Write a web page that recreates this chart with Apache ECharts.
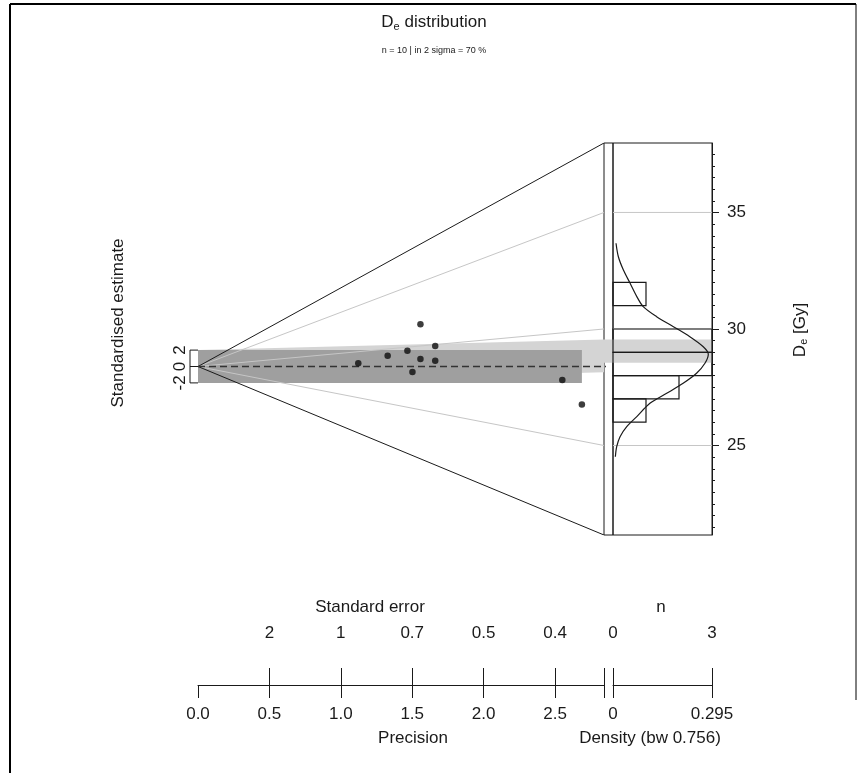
<!DOCTYPE html>
<html lang="en">
<head>
<meta charset="UTF-8">
<title>De distribution</title>
<script src="https://cdn.jsdelivr.net/npm/echarts@6/dist/echarts.min.js"></script>
<style>
  html, body { margin: 0; padding: 0; background: #fff; }
  #main { width: 868px; height: 773px; }
</style>
</head>
<body>
<div id="main"></div>
<script>
// De values (Gy) and standard errors
const deValues = [28.74, 29.38, 29.70, 31.70, 28.98, 27.95, 29.89, 28.82, 27.75, 26.66];
const deErrors = [0.891, 0.753, 0.682, 0.642, 0.642, 0.666, 0.602, 0.602, 0.392, 0.372];

const centralValue = 28.39;          // dashed line
const barValue = 28.85;              // centre of the light grey bar
const densityBar = [28.55, 29.55];   // grey bar inside the density panel

// histogram bins: [from, to, count]
const histBins = [[26, 27, 1], [27, 28, 2], [28, 29, 3], [29, 30, 3], [31, 32, 1]];

// KDE curve: [density, De]
const kdeCurve = [
  [0.007, 24.52], [0.011, 24.95], [0.021, 25.38], [0.041, 25.81], [0.071, 26.24],
  [0.110, 26.81], [0.160, 27.24], [0.209, 27.67], [0.249, 28.10], [0.274, 28.53],
  [0.284, 28.92], [0.269, 29.24], [0.229, 29.67], [0.180, 30.10], [0.130, 30.53],
  [0.090, 30.96], [0.071, 31.39], [0.051, 31.96], [0.031, 32.53], [0.016, 33.10],
  [0.009, 33.68]
];

// axes
const zTicks = [25, 30, 35];
const zMinorTicks = [21.5, 22, 22.5, 23, 23.5, 24, 24.5, 25, 25.5, 26, 26.5, 27, 27.5, 28, 28.5,
  29, 29.5, 30, 30.5, 31, 31.5, 32, 32.5, 33, 33.5, 34, 34.5, 35, 35.5, 36, 36.5, 37, 37.5];
const zRange = [21.16, 37.98];
const precisionMax = 2.843;
const precisionTicks = [0, 0.5, 1, 1.5, 2, 2.5];
const seTicks = [0.5, 1, 1.5, 2, 2.5];
const seTickLabels = ['2', '1', '0.7', '0.5', '0.4'];
const stdTicks = [-2, 0, 2];
const nTicks = [0, 3];
const densityTicks = [0, 0.295];
const bandwidth = 0.756;

const FONT = '"Liberation Sans", Arial, sans-serif';
const INK = '#1a1a1a';
const LIGHT = '#d4d4d4';
const DARK = '#9f9f9f';
const FS = 17;

// standardised coordinates
const precision = deErrors.map(e => 1 / e);
const points = deValues.map((z, i) => [precision[i], (z - centralValue) / deErrors[i]]);
const stdMax = (zRange[1] - centralValue) * precisionMax;
const stdMin = (zRange[0] - centralValue) * precisionMax;
const maxPrec = Math.max.apply(null, precision);
const in2s = points.filter(p => Math.abs(p[1]) <= 2).length;

// layout
const gTop = 143, gH = 392, radLeft = 198, radW = 406, colW = 9, densW = 99, axisOffset = 150;
const dashEnd = precisionMax * (radW + colW + densW) / radW;

const chart = echarts.init(document.getElementById('main'));

function polygon(pts, color, z) {
  return {
    type: 'custom', xAxisIndex: 0, yAxisIndex: 0, z: z, silent: true, clip: false,
    data: [[0, 0]],
    renderItem: function (params, api) {
      return { type: 'polygon', shape: { points: pts.map(p => api.coord(p)) }, style: { fill: color } };
    }
  };
}

function ray(z, color, zl) {
  return {
    type: 'line', xAxisIndex: 0, yAxisIndex: 0, z: zl, silent: true, symbol: 'none',
    lineStyle: { color: color, width: 1 },
    data: [[0, 0], [precisionMax, (z - centralValue) * precisionMax]]
  };
}

const series = [
  polygon([[0, -2], [0, 2], [precisionMax, (barValue - centralValue) * precisionMax + 2],
           [precisionMax, (barValue - centralValue) * precisionMax - 2]], LIGHT, 1),
  polygon([[0, -2], [0, 2], [maxPrec, 2], [maxPrec, -2]], DARK, 2),
  // grey bar through the density panel
  {
    type: 'custom', xAxisIndex: 2, yAxisIndex: 1, z: 1, silent: true, clip: false,
    data: [[0, densityBar[0], densityBar[1]]],
    renderItem: function (params, api) {
      const a = api.coord([0, api.value(1)]);
      const b = api.coord([nTicks[1], api.value(2)]);
      return { type: 'rect', shape: { x: a[0] - colW, y: b[1], width: b[0] - a[0] + colW, height: a[1] - b[1] },
               style: { fill: LIGHT } };
    }
  }
];

zTicks.forEach(z => {
  series.push(ray(z, '#c6c6c6', 3));
  series.push({
    type: 'line', xAxisIndex: 2, yAxisIndex: 1, z: 3, silent: true, symbol: 'none',
    lineStyle: { color: '#c6c6c6', width: 1 },
    data: [[0, z], [nTicks[1], z]]
  });
});
series.push(ray(zRange[1], INK, 4));
series.push(ray(zRange[0], INK, 4));

// y-axis bracket (-2..2)
series.push({
  type: 'custom', xAxisIndex: 0, yAxisIndex: 0, z: 5, silent: true, clip: false,
  data: [[0, -2, 2]],
  renderItem: function (params, api) {
    const ls = { stroke: INK, lineWidth: 1 };
    const lo = api.coord([0, api.value(1)]);
    const hi = api.coord([0, api.value(2)]);
    const kids = [{ type: 'line', shape: { x1: lo[0] - 8, y1: lo[1], x2: hi[0] - 8, y2: hi[1] }, style: ls }];
    stdTicks.forEach(t => {
      const p = api.coord([0, t]);
      kids.push({ type: 'line', shape: { x1: p[0] - 8, y1: p[1], x2: p[0], y2: p[1] }, style: ls });
    });
    return { type: 'group', children: kids };
  }
});

// dashed central line
series.push({
  type: 'line', xAxisIndex: 0, yAxisIndex: 0, z: 6, silent: true, symbol: 'none', clip: false,
  lineStyle: { color: '#333', width: 1.5, type: [7, 4] },
  data: [[0, 0], [dashEnd, 0]]
});

// histogram
series.push({
  type: 'custom', xAxisIndex: 2, yAxisIndex: 1, z: 5, silent: true,
  data: histBins,
  encode: { x: 2, y: [0, 1] },
  renderItem: function (params, api) {
    const a = api.coord([0, api.value(0)]);
    const b = api.coord([api.value(2), api.value(1)]);
    return { type: 'rect', shape: { x: a[0], y: b[1], width: b[0] - a[0], height: a[1] - b[1] },
             style: { fill: null, stroke: INK, lineWidth: 1.2 } };
  }
});

// density curve
series.push({
  type: 'line', xAxisIndex: 3, yAxisIndex: 1, z: 6, silent: true, symbol: 'none', smooth: 0.3,
  lineStyle: { color: INK, width: 1.2 },
  data: kdeCurve
});

// points
series.push({
  type: 'scatter', xAxisIndex: 0, yAxisIndex: 0, z: 8, silent: true,
  symbolSize: 6.5, itemStyle: { color: '#0d0d0d' },
  data: points
});

const lbl = { color: INK, fontFamily: FONT, fontSize: FS };

chart.setOption({
  animation: false,
  backgroundColor: '#fff',
  textStyle: { fontFamily: FONT },
  title: {
    left: 'center', top: 8, itemGap: 15,
    text: '{m|D}{s|e}{m| distribution}',
    textStyle: { fontWeight: 'normal',
      rich: { m: { fontSize: 17, color: INK, fontFamily: FONT, fontWeight: 'normal' },
              s: { fontSize: 11, color: INK, fontFamily: FONT, fontWeight: 'normal', padding: [8, 0, 0, 0] } } },
    subtext: 'n = ' + deValues.length + ' | in 2 sigma = ' + Math.round(100 * in2s / deValues.length) + ' %',
    subtextStyle: { fontSize: 9, color: INK, fontFamily: FONT }
  },
  grid: [
    { left: radLeft, top: gTop, width: radW, height: gH, outerBoundsMode: 'none', containLabel: false },
    { left: radLeft + radW, top: gTop, width: colW, height: gH, outerBoundsMode: 'none', containLabel: false,
      show: true, borderColor: INK, borderWidth: 1 },
    { left: radLeft + radW + colW, top: gTop, width: densW, height: gH, outerBoundsMode: 'none', containLabel: false,
      show: true, borderColor: INK, borderWidth: 1 }
  ],
  xAxis: [
    { gridIndex: 0, type: 'value', min: 0, max: precisionMax, position: 'bottom', offset: axisOffset,
      axisLine: { show: true, onZero: false, lineStyle: { color: INK, width: 1 } },
      axisTick: { show: true, length: 13, customValues: precisionTicks.concat([precisionMax]), lineStyle: { color: INK } },
      axisLabel: Object.assign({ customValues: precisionTicks, margin: 21, formatter: v => v.toFixed(1) }, lbl),
      splitLine: { show: false } },
    { gridIndex: 0, type: 'value', min: 0, max: precisionMax, position: 'bottom', offset: axisOffset,
      axisLine: { show: false, onZero: false },
      axisTick: { show: true, inside: true, length: 17, customValues: seTicks.concat([precisionMax]), lineStyle: { color: INK } },
      axisLabel: Object.assign({ inside: true, customValues: seTicks, margin: 43,
        formatter: v => seTickLabels[seTicks.indexOf(v)] }, lbl),
      splitLine: { show: false } },
    { gridIndex: 2, type: 'value', min: nTicks[0], max: nTicks[1], position: 'bottom', offset: axisOffset,
      axisLine: { show: true, onZero: false, lineStyle: { color: INK, width: 1 } },
      axisTick: { show: true, inside: true, length: 17, customValues: nTicks, lineStyle: { color: INK } },
      axisLabel: Object.assign({ inside: true, customValues: nTicks, margin: 43 }, lbl),
      splitLine: { show: false } },
    { gridIndex: 2, type: 'value', min: densityTicks[0], max: densityTicks[1], position: 'bottom', offset: axisOffset,
      axisLine: { show: false, onZero: false },
      axisTick: { show: true, length: 13, customValues: densityTicks, lineStyle: { color: INK } },
      axisLabel: Object.assign({ customValues: densityTicks, margin: 21,
        formatter: v => (v === 0 ? '0' : v.toFixed(3)) }, lbl),
      splitLine: { show: false } },
    { gridIndex: 1, type: 'value', show: false, min: 0, max: 1 }
  ],
  yAxis: [
    { gridIndex: 0, type: 'value', min: stdMin, max: stdMax, position: 'left',
      axisLine: { show: false, onZero: false }, axisTick: { show: false }, splitLine: { show: false },
      axisLabel: Object.assign({ customValues: stdTicks, rotate: 90, margin: 9 }, lbl) },
    { gridIndex: 2, type: 'value', min: zRange[0], max: zRange[1], position: 'right',
      axisLine: { show: true, onZero: false, lineStyle: { color: INK, width: 1 } },
      axisTick: { show: true, length: 7, customValues: zTicks, lineStyle: { color: INK } },
      axisLabel: Object.assign({ customValues: zTicks, margin: 15 }, lbl),
      splitLine: { show: false } },
    { gridIndex: 2, type: 'value', min: zRange[0], max: zRange[1], position: 'right',
      axisLine: { show: false, onZero: false },
      axisTick: { show: true, length: 3, customValues: zMinorTicks, lineStyle: { color: INK } },
      axisLabel: { show: false }, splitLine: { show: false } },
    { gridIndex: 1, type: 'value', show: false, min: 0, max: 1 }
  ],
  graphic: [
    { type: 'line', silent: true, shape: { x1: 10, y1: 4, x2: 856, y2: 4 }, style: { stroke: '#000', lineWidth: 2 } },
    { type: 'line', silent: true, shape: { x1: 10, y1: 4, x2: 10, y2: 773 }, style: { stroke: '#000', lineWidth: 2 } },
    { type: 'line', silent: true, shape: { x1: 856, y1: 4, x2: 856, y2: 700 }, style: { stroke: '#000', lineWidth: 1 } },
    { type: 'text', silent: true, x: 370, y: 607,
      style: { text: 'Standard error', fill: INK, font: FS + 'px ' + FONT, align: 'center', verticalAlign: 'middle' } },
    { type: 'text', silent: true, x: 661, y: 607,
      style: { text: 'n', fill: INK, font: FS + 'px ' + FONT, align: 'center', verticalAlign: 'middle' } },
    { type: 'text', silent: true, x: 413, y: 738,
      style: { text: 'Precision', fill: INK, font: FS + 'px ' + FONT, align: 'center', verticalAlign: 'middle' } },
    { type: 'text', silent: true, x: 650, y: 738,
      style: { text: 'Density (bw ' + bandwidth + ')', fill: INK, font: FS + 'px ' + FONT, align: 'center', verticalAlign: 'middle' } },
    { type: 'text', silent: true, x: 118, y: 323, rotation: Math.PI / 2,
      style: { text: 'Standardised estimate', fill: INK, font: FS + 'px ' + FONT, align: 'center', verticalAlign: 'middle' } },
    { type: 'text', silent: true, x: 800, y: 330, rotation: Math.PI / 2,
      style: { text: '{m|D}{s|e}{m| [Gy]}', align: 'center', verticalAlign: 'middle',
        rich: { m: { fontSize: FS, fill: INK, fontFamily: FONT },
                s: { fontSize: 11, fill: INK, fontFamily: FONT, padding: [8, 0, 0, 0] } } } }
  ],
  series: series
});
</script>
</body>
</html>
